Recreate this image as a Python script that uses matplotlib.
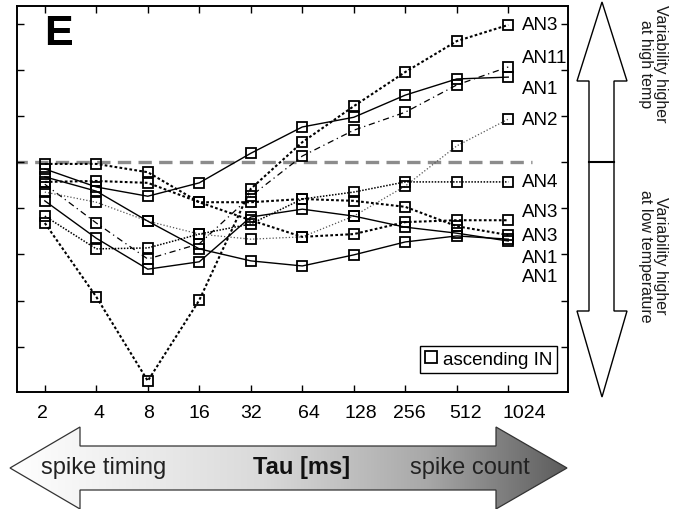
import matplotlib.pyplot as plt
import numpy as np
from matplotlib.colors import LinearSegmentedColormap
from matplotlib.lines import Line2D
from matplotlib.patches import Polygon
from matplotlib.transforms import ScaledTranslation

plt.rcParams["font.family"] = ["Liberation Sans", "DejaVu Sans"]

tau_labels = ["2", "4", "8", "16", "32", "64", "128", "256", "512", "1024"]

# variability index per neuron (0 = no temperature effect)
an3_a = [-1.32, -2.92, -4.74, -2.99, -0.58, 0.43, 1.21, 1.95, 2.62, 2.97]
an11 = [-0.48, -1.32, -2.10, -1.77, -0.74, 0.13, 0.69, 1.08, 1.67, 2.06]
an1_a = [-0.15, -0.54, -0.74, -0.45, 0.19, 0.76, 0.97, 1.45, 1.80, 1.84]
an2 = [-0.65, -0.87, -1.28, -1.56, -1.67, -1.62, -1.17, -0.52, 0.35, 0.93]
an4 = [-1.17, -1.88, -1.86, -1.56, -1.34, -0.80, -0.65, -0.43, -0.43, -0.43]
an3_b = [-0.04, -0.04, -0.22, -0.87, -1.26, -1.62, -1.56, -1.30, -1.26, -1.26]
an3_c = [-0.43, -0.41, -0.45, -0.87, -0.87, -0.80, -0.84, -0.97, -1.39, -1.58]
an1_b = [-0.32, -0.63, -1.28, -1.88, -2.14, -2.25, -2.01, -1.73, -1.60, -1.67]
an1_c = [-0.84, -1.65, -2.32, -2.16, -1.19, -1.02, -1.17, -1.41, -1.54, -1.71]

end_labels = ["AN3", "AN11", "AN1", "AN2", "AN4", "AN3", "AN3", "AN1", "AN1"]

bold_dot = dict(color="black", lw=1.5, ls=(0, (1.3, 1.1)))
fine_dot = dict(color="black", lw=1.1, ls=(0, (1, 1)))
light_dot = dict(color="#555555", lw=0.9, ls=(0, (1, 1.6)))
dash_dot = dict(color="black", lw=0.9, ls=(0, (5, 3, 1, 3)))
solid = dict(color="black", lw=1.0, ls="-")

series = [
    (an3_a, bold_dot),
    (an11, dash_dot),
    (an1_a, solid),
    (an2, light_dot),
    (an4, fine_dot),
    (an3_b, bold_dot),
    (an3_c, bold_dot),
    (an1_b, solid),
    (an1_c, solid),
]

fig = plt.figure(figsize=(6.9, 5.1), dpi=100)
ax = fig.add_axes([17 / 690, 117 / 510, 551 / 690, 386 / 510])

x = np.arange(len(tau_labels))
ax.plot([-0.6, 9.46], [0, 0], color="#8c8c8c", lw=2.4,
        ls=(0, (4, 2.2)), zorder=1)
for vals, style in series:
    ax.plot(x, vals, marker="s", ms=7.5, mfc="none", mec="black", mew=1.3,
            zorder=3, **style)

label_y = [2.97, 2.27, 1.60, 0.93, -0.43, -1.08, -1.58, -2.06, -2.47]
for name, yy in zip(end_labels, label_y):
    ax.text(9.27, yy, name, fontsize=13.5, ha="left", va="center")

ax.text(0.05, 0.93, "E", transform=ax.transAxes, fontsize=31,
        fontweight="bold", ha="left", va="center")

ax.set_xlim(-0.54, 10.16)
ax.set_ylim(-4.98, 3.38)
ax.set_xticks(x)
ax.set_xticklabels(tau_labels, fontsize=14)
ax.set_yticks(np.arange(-4, 4))
ax.set_yticklabels([])
ax.tick_params(direction="in", length=5, width=1.0, top=True, right=True,
               pad=9)
for sp in ax.spines.values():
    sp.set_linewidth(1.4)

# the printed tick labels drift a little to the right of their ticks
shift_px = [-2, 3, 1, 0, 0, 7, 7, 4, 9, 16]
for lab, dx in zip(ax.get_xticklabels(), shift_px):
    lab.set_transform(lab.get_transform()
                      + ScaledTranslation(dx / 100, 0, fig.dpi_scale_trans))

handle = Line2D([], [], ls="none", marker="s", ms=8, mfc="none",
                mec="black", mew=1.3)
leg = ax.legend([handle], ["ascending IN"], loc="lower right",
                bbox_to_anchor=(0.98, 0.05), borderaxespad=0, fontsize=13.5,
                fancybox=False, framealpha=1, handlelength=0.6,
                handletextpad=0.35, borderpad=0.25)
leg.get_frame().set_edgecolor("black")
leg.get_frame().set_linewidth(1.0)

# overlay in pixel units for the two annotation arrows
ov = fig.add_axes([0, 0, 1, 1])
ov.set_xlim(0, 690)
ov.set_ylim(510, 0)
ov.axis("off")

vert = Polygon([(602, 3), (627, 82), (614, 82), (614, 312), (627, 312),
                (602, 398), (577, 312), (589, 312), (589, 82), (577, 82)],
               closed=True, facecolor="white", edgecolor="black", lw=1.0)
ov.add_patch(vert)
ov.plot([589, 614], [163, 163], color="black", lw=1.5)
ov.text(653, 64, "Variability higher\nat high temp", rotation=270,
        fontsize=11.5, ha="center", va="center", multialignment="center",
        linespacing=1.05, color="#1a1a1a")
ov.text(653, 256, "Variability higher\nat low temperature", rotation=270,
        fontsize=11.5, ha="center", va="center", multialignment="center",
        linespacing=1.05, color="#1a1a1a")

horiz = Polygon([(10, 469), (80, 428), (80, 447), (496, 447), (496, 428),
                 (567, 469), (496, 510), (496, 491), (80, 491), (80, 510)],
                closed=True, facecolor="none", edgecolor="#333333", lw=0.9,
                zorder=3)
ov.add_patch(horiz)
grad = LinearSegmentedColormap.from_list(
    "shade", [(0, "#ffffff"), (0.45, "#dadada"), (0.75, "#a8a8a8"),
              (1.0, "#5c5c5c")])
img = ov.imshow(np.linspace(0, 1, 256)[None, :], cmap=grad, aspect="auto",
                extent=[10, 567, 510, 428], zorder=2)
img.set_clip_path(horiz)
ov.set_xlim(0, 690)
ov.set_ylim(510, 0)

ov.text(104, 468, "spike timing", fontsize=17, ha="center", va="center",
        color="#222222")
ov.text(302, 468, "Tau [ms]", fontsize=17, fontweight="bold", ha="center",
        va="center", color="#111111")
ov.text(470, 468, "spike count", fontsize=17, ha="center", va="center",
        color="#222222")

fig.savefig("out.png", dpi=100)
